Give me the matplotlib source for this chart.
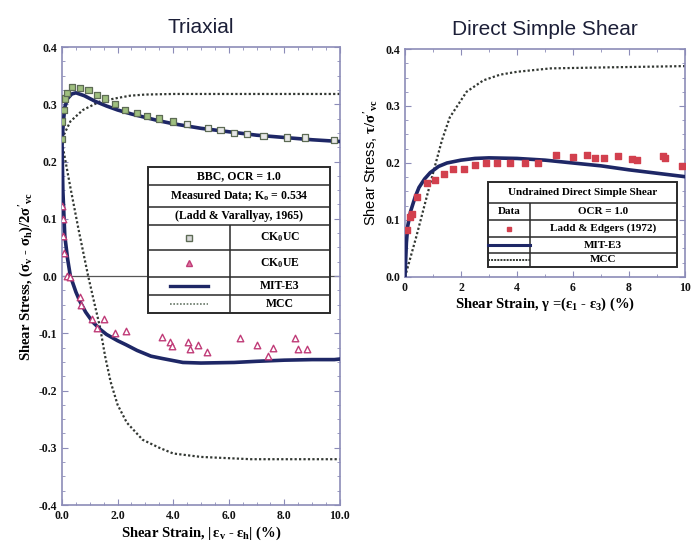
import numpy as np
import matplotlib
matplotlib.use("Agg")
import matplotlib.pyplot as plt
from matplotlib.ticker import MultipleLocator, FormatStrFormatter

# -------------------------
# Data
# -------------------------
# Triaxial, measured (Ladd & Varallyay, 1965)
uc_x = [0.0, 0.0, 0.05, 0.1, 0.18, 0.35, 0.65, 0.95, 1.25, 1.55, 1.9, 2.27, 2.7, 3.05,
        3.5, 4.0, 4.5, 5.25, 5.7, 6.2, 6.65, 7.25, 8.1, 8.75, 9.8]
uc_y = [0.24, 0.27, 0.29, 0.31, 0.32, 0.33, 0.328, 0.325, 0.316, 0.31, 0.30, 0.29, 0.285,
        0.28, 0.275, 0.27, 0.265, 0.258, 0.255, 0.25, 0.248, 0.245, 0.242, 0.242, 0.237]
ue_x = [0.0, 0.02, 0.04, 0.06, 0.18, 0.3, 0.65, 0.7, 1.07, 1.25, 1.5, 1.9, 2.3, 3.6, 3.9,
        3.95, 4.55, 4.6, 4.9, 5.2, 6.4, 7.0, 7.4, 7.6, 8.4, 8.5, 8.8]
ue_y = [0.123, 0.1, 0.07, 0.04, 0.0, -0.002, -0.037, -0.05, -0.075, -0.09, -0.075, -0.1,
        -0.096, -0.107, -0.116, -0.122, -0.115, -0.128, -0.12, -0.133, -0.109, -0.121,
        -0.139, -0.125, -0.109, -0.127, -0.128]

# Triaxial, MIT-E3 predictions
mit_c_x = [0, 0.05, 0.1, 0.2, 0.35, 0.5, 0.8, 1.2, 1.6, 2.0, 2.5, 3.0, 3.5, 4.0, 5.0,
           6.0, 7.0, 8.0, 9.0, 10.0]
mit_c_y = [0.233, 0.27, 0.295, 0.31, 0.318, 0.32, 0.315, 0.305, 0.297, 0.29, 0.283,
           0.277, 0.271, 0.266, 0.258, 0.252, 0.246, 0.242, 0.238, 0.235]
mit_e_x = [0, 0.03, 0.1, 0.2, 0.3, 0.5, 0.65, 0.85, 1.1, 1.37, 1.6, 2.0, 2.3, 2.7, 3.2,
           3.6, 4.35, 5.0, 6.2, 7.0, 8.0, 9.0, 9.8, 10.0]
mit_e_y = [0.233, 0.15, 0.07, 0.03, 0.0, -0.028, -0.045, -0.063, -0.08, -0.093, -0.102,
           -0.113, -0.12, -0.13, -0.14, -0.144, -0.151, -0.152, -0.151, -0.149, -0.147,
           -0.146, -0.146, -0.145]

# Triaxial, MCC predictions
mcc_c_x = [0, 0.3, 0.75, 1.37, 2.0, 2.45, 3.0, 4.0, 5.0, 6.0, 8.0, 10.0]
mcc_c_y = [0.24, 0.27, 0.29, 0.305, 0.311, 0.315, 0.317, 0.318, 0.318, 0.318, 0.318,
           0.318]
mcc_e_x = [0, 0.3, 0.6, 0.94, 1.2, 1.37, 1.55, 1.75, 2.0, 2.33, 2.9, 3.5, 4.0, 5.0, 6.8,
           8.0, 9.8, 10.0]
mcc_e_y = [0.233, 0.155, 0.08, 0.0, -0.055, -0.09, -0.14, -0.185, -0.225, -0.256, -0.286,
           -0.30, -0.31, -0.316, -0.32, -0.32, -0.32, -0.32]

# Direct simple shear, measured (Ladd & Edgers, 1972)
dss_x = [0.07, 0.18, 0.25, 0.42, 0.8, 1.07, 1.4, 1.7, 2.1, 2.5, 2.9, 3.3, 3.75, 4.3, 4.75,
         5.4, 6.0, 6.5, 6.8, 7.1, 7.6, 8.1, 8.3, 9.2, 9.3, 9.9]
dss_y = [0.082, 0.105, 0.11, 0.14, 0.165, 0.17, 0.18, 0.19, 0.19, 0.196, 0.2, 0.2, 0.2,
         0.2, 0.2, 0.214, 0.21, 0.214, 0.208, 0.208, 0.212, 0.207, 0.205, 0.212, 0.208,
         0.195]

# Direct simple shear, predictions
dss_mit_x = [0, 0.05, 0.1, 0.2, 0.36, 0.5, 0.7, 0.9, 1.2, 1.5, 2.0, 2.5, 3.0, 4.0, 5.0,
             6.0, 7.0, 8.0, 9.0, 10.0]
dss_mit_y = [0, 0.06, 0.09, 0.115, 0.14, 0.157, 0.172, 0.183, 0.194, 0.2, 0.205, 0.208,
             0.209, 0.208, 0.205, 0.2, 0.195, 0.188, 0.182, 0.176]
dss_mcc_x = [0, 0.4, 0.8, 1.1, 1.32, 1.6, 2.2, 2.8, 3.4, 4.0, 5.2, 7.5, 10.0]
dss_mcc_y = [0, 0.07, 0.145, 0.2, 0.24, 0.28, 0.325, 0.345, 0.355, 0.36, 0.366, 0.368,
             0.37]

NAVY = "#1e2766"
MCC_COL = "#333833"
FRAME = "#8c8cb8"

plt.rcParams["axes.unicode_minus"] = False
plt.rcParams["mathtext.fontset"] = "custom"
plt.rcParams["mathtext.rm"] = "Liberation Serif:bold"
plt.rcParams["mathtext.it"] = "Liberation Serif:bold"
plt.rcParams["mathtext.bf"] = "Liberation Serif:bold"

serif = dict(family="Liberation Serif", weight="bold")


def style_axes(ax, xfmt, yfmt):
    for s in ax.spines.values():
        s.set_color(FRAME)
        s.set_linewidth(1.2)
    ax.tick_params(which="both", direction="in", top=True, right=True, colors=FRAME,
                   labelcolor="#111111", labelsize=8.5)
    ax.tick_params(which="major", length=4)
    ax.tick_params(which="minor", length=2)
    ax.xaxis.set_major_formatter(FormatStrFormatter(xfmt))
    ax.yaxis.set_major_formatter(FormatStrFormatter(yfmt))
    for lab in ax.get_xticklabels() + ax.get_yticklabels():
        lab.set_fontfamily("Liberation Serif")
        lab.set_fontweight("bold")


def draw_table(ax, xl, xr, xdiv, rows, span_rows, texts, fs):
    """Grid of a legend table in axes fraction coordinates."""
    kw = dict(transform=ax.transAxes, color="#2a2a2a", lw=1.1, zorder=6,
              solid_capstyle="butt")
    ax.add_patch(plt.Rectangle((xl, rows[-1]), xr - xl, rows[0] - rows[-1],
                               transform=ax.transAxes, facecolor="white",
                               edgecolor="#2a2a2a", lw=1.4, zorder=5))
    for y in rows[1:-1]:
        ax.plot([xl, xr], [y, y], **kw)
    ax.plot([xdiv, xdiv], [rows[span_rows], rows[-1]], **kw)
    for i, t in enumerate(texts):
        yc = (rows[i] + rows[i + 1]) / 2
        if isinstance(t, tuple):
            ax.text((xl + xdiv) / 2, yc, t[0], transform=ax.transAxes, ha="center",
                    va="center", fontsize=fs, zorder=7, **serif)
            ax.text((xdiv + xr) / 2, yc, t[1], transform=ax.transAxes, ha="center",
                    va="center", fontsize=fs, zorder=7, **serif)
        else:
            ax.text((xl + xr) / 2, yc, t, transform=ax.transAxes, ha="center",
                    va="center", fontsize=fs, zorder=7, **serif)


def main():
    fig = plt.figure(figsize=(6.93, 5.5), dpi=100)
    fig.patch.set_facecolor("white")

    # -------------------------
    # Triaxial
    # -------------------------
    ax1 = fig.add_axes([0.0895, 0.0818, 0.401, 0.8327])
    ax1.axhline(0.0, color="#555555", lw=0.9, zorder=1)
    ax1.plot(mcc_c_x, mcc_c_y, color=MCC_COL, lw=1.6, ls=(0, (1, 1)), zorder=2)
    ax1.plot(mcc_e_x, mcc_e_y, color=MCC_COL, lw=1.6, ls=(0, (1, 1)), zorder=2)
    ax1.plot(mit_c_x, mit_c_y, color=NAVY, lw=2.6, zorder=3)
    ax1.plot(mit_e_x, mit_e_y, color=NAVY, lw=2.6, zorder=3)
    uc_face = np.where(np.array(uc_x) < 4.2, "#9fbf7f", "#e8e8e8")
    ax1.scatter(uc_x, uc_y, marker="s", s=20, c=uc_face, edgecolors="#5d6b55",
                linewidths=0.9, zorder=4)
    ax1.scatter(ue_x, ue_y, marker="^", s=22, facecolors="white",
                edgecolors="#c03c78", linewidths=1.0, zorder=4)
    ax1.set_xlim(0, 10)
    ax1.set_ylim(-0.4, 0.4)
    ax1.xaxis.set_major_locator(MultipleLocator(2.0))
    ax1.xaxis.set_minor_locator(MultipleLocator(0.5))
    ax1.yaxis.set_major_locator(MultipleLocator(0.1))
    ax1.yaxis.set_minor_locator(MultipleLocator(0.025))
    style_axes(ax1, "%.1f", "%.1f")
    ax1.set_xlabel(r"Shear Strain, $|\,\epsilon_v$ - $\epsilon_h|$ (%)", fontsize=10.5,
                   labelpad=2, **serif)
    ax1.set_ylabel(r"Shear Stress, $(\sigma_v$ - $\sigma_h)/2\sigma'_{vc}$", fontsize=10.5,
                   labelpad=2, **serif)
    ax1.set_title("Triaxial", fontsize=15, family="Liberation Sans", color="#1c1f38",
                  pad=10)

    rows1 = [0.738, 0.699, 0.651, 0.611, 0.557, 0.498, 0.459, 0.419]
    draw_table(ax1, 0.31, 0.964, 0.604, rows1, 3,
               ["BBC, OCR = 1.0", r"Measured Data; K$_o$ = 0.534",
                "(Ladd & Varallyay, 1965)", ("", r"CK$_0$UC"), ("", r"CK$_0$UE"),
                ("", "MIT-E3"), ("", "MCC")], 8.5)
    lx = (0.31 + 0.604) / 2
    ax1.plot([lx], [(rows1[3] + rows1[4]) / 2], transform=ax1.transAxes, marker="s",
             ms=4, mfc="#d8d8d8", mec="#5d6b55", zorder=8)
    ax1.plot([lx], [(rows1[4] + rows1[5]) / 2], transform=ax1.transAxes, marker="^",
             ms=4, mfc="#e07aa0", mec="#c03c78", zorder=8)
    ax1.plot([lx - 0.07, lx + 0.07], [(rows1[5] + rows1[6]) / 2] * 2,
             transform=ax1.transAxes, color=NAVY, lw=2.4, zorder=8)
    ax1.plot([lx - 0.07, lx + 0.07], [(rows1[6] + rows1[7]) / 2] * 2,
             transform=ax1.transAxes, color="#667766", lw=1.2, ls=(0, (1, 1)), zorder=8)

    # -------------------------
    # Direct Simple Shear
    # -------------------------
    ax2 = fig.add_axes([0.5844, 0.4964, 0.404, 0.4145])
    ax2.plot(dss_mcc_x, dss_mcc_y, color=MCC_COL, lw=1.6, ls=(0, (1, 1)), zorder=2)
    ax2.plot(dss_mit_x, dss_mit_y, color=NAVY, lw=2.6, zorder=3)
    ax2.scatter(dss_x, dss_y, marker="s", s=14, color="#d2404e", zorder=4)
    ax2.set_xlim(0, 10)
    ax2.set_ylim(0, 0.4)
    ax2.xaxis.set_major_locator(MultipleLocator(2))
    ax2.xaxis.set_minor_locator(MultipleLocator(1))
    ax2.yaxis.set_major_locator(MultipleLocator(0.1))
    ax2.yaxis.set_minor_locator(MultipleLocator(0.025))
    style_axes(ax2, "%d", "%.1f")
    ax2.set_xlabel(r"Shear Strain, $\gamma$ =($\epsilon_1$ - $\epsilon_3$) (%)",
                   fontsize=10.5, labelpad=1, **serif)
    ax2.set_ylabel(r"Shear Stress, $\tau/\sigma'_{vc}$", fontsize=10.5,
                   family="Liberation Sans", labelpad=4)
    ax2.set_title("Direct Simple Shear", fontsize=15, family="Liberation Sans",
                  color="#1c1f38", pad=10)

    rows2 = [0.417, 0.325, 0.25, 0.175, 0.105, 0.044]
    draw_table(ax2, 0.296, 0.971, 0.446, rows2, 1,
               ["Undrained Direct Simple Shear", ("Data", "OCR = 1.0"),
                ("", "Ladd & Edgers (1972)"), ("", "MIT-E3"), ("", "MCC")], 8)
    lx2 = (0.296 + 0.446) / 2
    ax2.plot([lx2], [(rows2[2] + rows2[3]) / 2], transform=ax2.transAxes, marker="s",
             ms=3.5, color="#d2404e", zorder=8)
    ax2.plot([0.296, 0.446], [(rows2[3] + rows2[4]) / 2] * 2, transform=ax2.transAxes,
             color=NAVY, lw=2.2, zorder=8)
    ax2.plot([0.296, 0.446], [(rows2[4] + rows2[5]) / 2] * 2, transform=ax2.transAxes,
             color=MCC_COL, lw=1.4, ls=(0, (1, 0.6)), zorder=8)

    fig.savefig("out.png", dpi=100)


if __name__ == "__main__":
    main()
